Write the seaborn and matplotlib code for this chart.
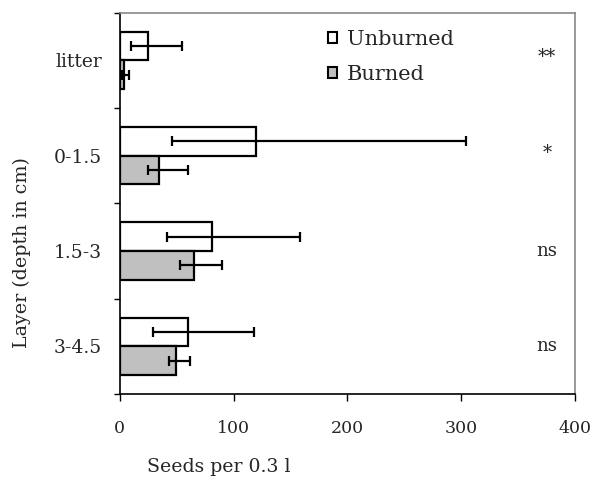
import matplotlib
matplotlib.use("Agg")
import matplotlib.pyplot as plt
import seaborn as sns
import pandas as pd
import numpy as np
from matplotlib.ticker import FixedLocator

layers = ["litter", "0-1.5", "1.5-3", "3-4.5"]
treatments = ["Unburned", "Burned"]
unburned_mean = [24.5, 119.3, 80.7, 59.6]
unburned_low = [10.2, 45.6, 41.8, 29.5]
unburned_high = [54.4, 304.4, 157.9, 117.8]
burned_mean = [3.5, 34.8, 65.2, 49.1]
burned_low = [2.0, 24.5, 52.6, 43.2]
burned_high = [8.0, 59.6, 89.5, 61.7]
signif = ["**", "*", "ns", "ns"]
x_ticks = [0, 100, 200, 300, 400]

sns.set_style("ticks")
plt.rcParams["font.family"] = ["DejaVu Serif"]

df = pd.DataFrame({
    "Layer": layers * 2,
    "Treatment": ["Unburned"] * 4 + ["Burned"] * 4,
    "Seeds": unburned_mean + burned_mean,
})

fig = plt.figure(figsize=(5.94, 4.83), dpi=100)
ax = fig.add_axes([0.2015, 0.1843, 0.767, 0.7897])

sns.barplot(data=df, y="Layer", x="Seeds", hue="Treatment", order=layers,
            hue_order=treatments, palette={"Unburned": "white", "Burned": "#c0c0c0"},
            edgecolor="black", linewidth=1.6, width=0.6, errorbar=None,
            orient="h", ax=ax, saturation=1)

pos = np.arange(len(layers))
for off, m, lo, hi in [(-0.15, unburned_mean, unburned_low, unburned_high),
                       (0.15, burned_mean, burned_low, burned_high)]:
    m = np.array(m); lo = np.array(lo); hi = np.array(hi)
    ax.errorbar(m, pos + off, xerr=[m - lo, hi - m], fmt="none", ecolor="black",
                elinewidth=1.6, capsize=3.5, capthick=1.6, zorder=5)

for i, s in enumerate(signif):
    ax.text(375, i - 0.03 if "*" in s else i, s, ha="center", va="center", fontsize=13)

ax.set_xlim(0, 400)
ax.set_ylim(3.5, -0.5)
ax.set_xticks(x_ticks)
ax.set_xticklabels([str(t) for t in x_ticks], fontsize=12.5)
ax.tick_params(axis="x", length=5, width=1, direction="out", pad=14, color="black")
ax.set_yticks(pos)
ax.set_yticklabels(layers, fontsize=13.5)
ax.tick_params(axis="y", which="major", length=0, pad=12.5)
ax.yaxis.set_minor_locator(FixedLocator(np.arange(-0.5, 4.0, 1.0)))
ax.tick_params(axis="y", which="minor", length=4.5, width=1, direction="out", color="black")

ax.set_xlabel("")
ax.set_ylabel("")
fig.text(0.369, 0.033, "Seeds per 0.3 l", ha="center", va="center", fontsize=13.6)
fig.text(0.036, 0.478, "Layer (depth in cm)", ha="center", va="center",
         rotation=90, fontsize=13.7)

for sp in ["left", "bottom"]:
    ax.spines[sp].set_color("black")
    ax.spines[sp].set_linewidth(1.2)
for sp in ["top", "right"]:
    ax.spines[sp].set_visible(True)
    ax.spines[sp].set_color("#888888")
    ax.spines[sp].set_linewidth(1.2)

leg = ax.legend(loc="upper left", bbox_to_anchor=(0.418, 1.0), frameon=False,
                fontsize=15, handlelength=0.45, handleheight=0.45, handletextpad=0.45,
                labelspacing=0.75, borderaxespad=0.45, title=None)
for h in leg.legend_handles:
    h.set_linewidth(1.5)

fig.savefig("out.png", dpi=100, facecolor="white")
